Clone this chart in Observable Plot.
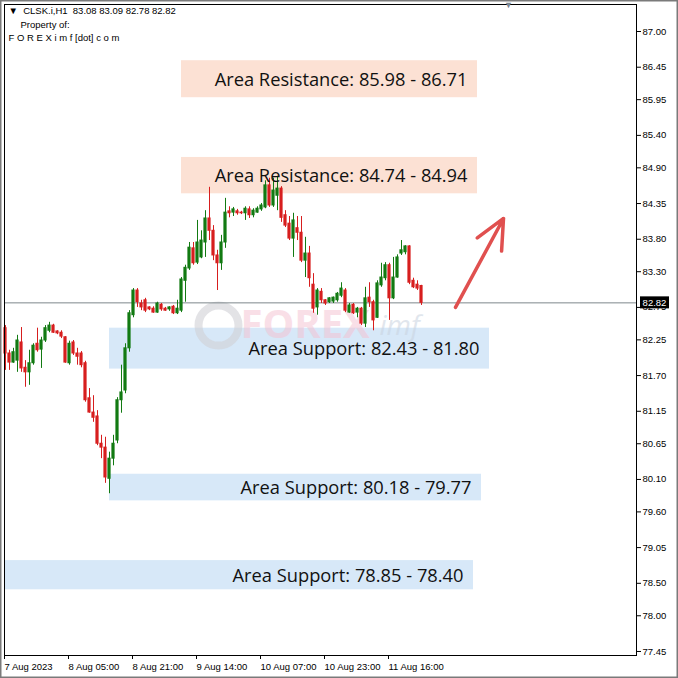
<!DOCTYPE html>
<html><head><meta charset="utf-8">
<script src="https://cdn.jsdelivr.net/npm/d3@7"></script>
<script src="https://cdn.jsdelivr.net/npm/@observablehq/plot@0.6"></script>
<style>
html,body{margin:0;padding:0;background:#fff;overflow:hidden;}
#chart{width:678px;height:678px;position:relative;overflow:hidden;}
</style></head><body><div id="chart"></div>
<script>
// ---- data (CLSK.i, H1) ----
const opens = [82.43,82.04,81.90,81.93,82.21,81.82,81.75,81.89,82.19,82.10,
82.24,82.39,82.47,82.38,82.36,82.29,81.89,82.21,82.04,82.04,
81.89,81.35,81.13,81.07,80.65,80.59,80.11,80.42,80.70,81.32,
81.47,82.12,82.63,83.01,82.81,82.86,82.75,82.73,82.67,82.79,
82.73,82.72,82.76,82.66,82.70,83.16,83.35,83.66,83.44,83.52,
83.75,84.12,83.93,83.55,83.43,83.75,84.23,84.21,84.23,84.21,
84.20,84.26,84.17,84.21,84.26,84.29,84.63,84.32,84.47,84.58,
84.17,84.04,83.81,83.97,83.90,83.47,83.58,83.10,82.75,82.99,
82.86,82.83,82.84,82.86,82.93,83.01,82.67,82.79,82.67,82.73,
82.50,82.90,82.83,82.59,83.09,83.20,83.40,82.89,83.21,83.58,
83.60,83.69,83.16,83.10,83.08];
const highs = [82.47,82.09,82.12,82.32,82.44,81.93,82.09,82.19,82.43,82.29,
82.47,82.52,82.49,82.39,82.39,82.30,82.23,82.24,82.12,82.07,
81.92,81.50,81.39,81.16,80.78,80.75,80.52,80.78,81.36,81.86,
82.19,82.70,83.04,83.04,82.86,82.89,82.76,82.76,82.83,82.81,
82.75,82.76,82.78,82.86,83.21,83.40,83.75,83.75,84.09,83.93,
84.24,84.60,84.01,83.63,83.86,84.43,84.30,84.29,84.26,84.23,
84.30,84.30,84.27,84.30,84.35,84.70,84.74,84.74,84.77,84.61,
84.24,84.15,84.20,84.15,84.15,83.83,83.69,83.27,83.04,83.04,
82.87,82.90,82.91,82.98,83.13,83.04,82.81,82.81,82.75,82.75,
83.06,83.13,82.86,83.16,83.43,83.44,83.43,83.52,83.56,83.78,
83.70,83.70,83.20,83.16,83.09];
const lows = [81.78,81.78,81.89,81.75,81.75,81.52,81.55,81.86,82.06,81.81,
82.21,82.36,82.35,82.33,82.27,81.89,81.86,82.01,81.86,81.82,
81.29,81.12,80.98,80.62,80.42,80.04,79.88,80.31,80.65,81.12,
81.42,82.06,82.59,82.75,82.70,82.67,82.70,82.66,82.66,82.69,
82.69,82.69,82.64,82.64,82.67,82.83,83.32,83.40,83.41,83.50,
83.52,83.78,83.47,83.01,83.32,83.66,84.13,84.15,84.17,84.18,
84.09,84.12,84.13,84.20,84.23,84.27,84.29,84.29,84.24,84.06,
83.98,83.78,83.52,83.78,83.44,83.21,83.06,82.66,82.63,82.81,
82.78,82.81,82.81,82.83,82.90,82.67,82.66,82.64,82.59,82.47,
82.44,82.75,82.39,82.58,83.06,83.16,82.55,82.87,83.20,83.55,
83.56,83.10,83.04,83.01,82.78];
const closes = [82.04,81.90,82.06,82.24,81.81,81.75,81.89,82.16,82.09,82.24,
82.43,82.47,82.36,82.35,82.30,81.90,82.19,82.04,81.99,81.86,
81.32,81.13,81.05,80.65,80.59,80.13,80.42,80.65,81.32,81.44,
82.12,82.66,83.01,82.83,82.75,82.70,82.72,82.67,82.81,82.72,
82.70,82.75,82.66,82.73,83.18,83.36,83.67,83.43,83.75,83.78,
84.12,83.93,83.55,83.43,83.75,84.21,84.20,84.26,84.20,84.20,
84.27,84.17,84.24,84.27,84.32,84.63,84.32,84.55,84.58,84.13,
84.01,83.81,84.09,83.90,83.47,83.58,83.20,82.73,83.01,82.86,
82.81,82.89,82.90,82.96,83.04,82.70,82.78,82.66,82.73,82.50,
82.89,82.83,82.55,83.12,83.21,83.40,82.89,83.21,83.52,83.63,
83.69,83.13,83.06,83.04,82.82];

const xTickBars = [0,16,32,48,64,80,96];
const xTickLabels = ["7 Aug 2023","8 Aug 05:00","8 Aug 21:00","9 Aug 14:00","10 Aug 07:00","10 Aug 23:00","11 Aug 16:00"];
const yTicks = [87.00,86.45,85.95,85.40,84.90,84.35,83.80,83.30,82.75,82.25,81.70,81.15,80.65,80.10,79.60,79.05,78.50,78.00,77.45];

const zoneLabels = ["Area Resistance: 85.98 - 86.71","Area Resistance: 84.74 - 84.94","Area Support: 82.43 - 81.80","Area Support: 80.18 - 79.77","Area Support: 78.85 - 78.40"];
const zoneHigh = [86.55, 85.06, 82.43, 80.18, 78.85];
const zoneLow  = [85.98, 84.50, 81.80, 79.77, 78.40];
const zoneStartBar = [44, 44, 26, 26, -0.25];
const zoneEndBar   = [118, 118, 121, 119, 117];
const zoneKind = ["resistance","resistance","support","support","support"];

const lastPrice = 82.82;
const arrowFromBar = 112.5, arrowFromPrice = 82.75;
const arrowToBar = 124.5, arrowToPrice = 84.12;

// ---- build ----
const candles = opens.map((o, i) => ({i, o, h: highs[i], l: lows[i], c: closes[i]}));
const zones = zoneLabels.map((label, k) => ({label, hi: zoneHigh[k], lo: zoneLow[k], s: zoneStartBar[k], e: zoneEndBar[k], kind: zoneKind[k]}));
const UP = "#127a12", DOWN = "#d71e1e";
const col = d => d.c >= d.o ? UP : DOWN;
const last = candles[candles.length - 1];
const nb = "\u00a0";
const axisFont = "'Liberation Sans', Arial, sans-serif";

const chart = Plot.plot({
  width: 678, height: 678,
  marginLeft: 4, marginRight: 42, marginTop: 4, marginBottom: 23,
  style: {fontFamily: axisFont, fontSize: "9.5px", color: "#000", background: "#fff"},
  x: {domain: [-0.25, 157.75], axis: null},
  y: {domain: [77.388, 87.416], axis: null},
  marks: [
    Plot.rect(zones, {x1: "s", x2: "e", y1: "lo", y2: "hi", fill: d => d.kind === "resistance" ? "#fce1d4" : "#d7e8f8"}),
    // watermark
    Plot.dot([{b: 53.25, p: 82.47}], {x: "b", y: "p", r: 20, stroke: "#d0d0d6", strokeWidth: 8, fill: "none", opacity: 0.6}),
    Plot.text([{b: 58.75, p: 82.47}], {x: "b", y: "p", text: () => "FOREX", textAnchor: "start", fontSize: 40, fontWeight: "bold", fill: "#f5c0d0", opacity: 0.5, fontFamily: "'Open Sans', sans-serif"}),
    Plot.text([{b: 93.5, p: 82.47}], {x: "b", y: "p", text: () => "imf", textAnchor: "start", fontSize: 28, fontStyle: "italic", fill: "#c9d3df", opacity: 0.55, fontFamily: "'Open Sans', sans-serif"}),
    Plot.ruleY([lastPrice], {stroke: "#7d878c", strokeWidth: 1}),
    Plot.ruleX(candles, {x: "i", y1: "l", y2: "h", stroke: col, strokeWidth: 1}),
    Plot.rect(candles, {x1: d => d.i - 0.4, x2: d => d.i + 0.4, y1: "o", y2: "c", fill: col, insetTop: -0.5, insetBottom: -0.5}),
    Plot.text(zones, {x: "e", y: d => (d.lo + d.hi) / 2, text: "label", textAnchor: "end", dx: -10, dy: 1, fontSize: 18.3, fill: "#111", fontFamily: "'Open Sans', sans-serif"}),
    Plot.arrow([{x1: arrowFromBar, y1: arrowFromPrice, x2: arrowToBar, y2: arrowToPrice}], {x1: "x1", y1: "y1", x2: "x2", y2: "y2", stroke: "#e0504f", strokeWidth: 3.5, headLength: 14, headAngle: 50}),
    Plot.axisY(yTicks, {anchor: "right", tickSize: 4, tickPadding: 2, tickFormat: d => d.toFixed(2), fontSize: 9.5, stroke: "#000"}),
    Plot.axisX(xTickBars, {anchor: "bottom", tickSize: 4, tickPadding: 4, tickFormat: d => xTickLabels[xTickBars.indexOf(d)], textAnchor: "start", dx: -1, fontSize: 9.5}),
    Plot.frame({stroke: "#000"}),
    Plot.text([`▼${nb}${nb}CLSK.i,H1${nb}${nb}${last.o.toFixed(2)} ${last.h.toFixed(2)} ${last.l.toFixed(2)} ${last.c.toFixed(2)}`], {frameAnchor: "top-left", dx: 4, dy: 6, textAnchor: "start", lineAnchor: "middle", fontSize: 9.5}),
    Plot.text(["Property of:"], {frameAnchor: "top-left", dx: 16, dy: 20, textAnchor: "start", lineAnchor: "middle", fontSize: 9.5}),
    Plot.text(["F O R E X i m f [dot] c o m"], {frameAnchor: "top-left", dx: 4, dy: 33, textAnchor: "start", lineAnchor: "middle", fontSize: 9.5}),
    Plot.text(["▼"], {frameAnchor: "top-left", dx: 504, dy: 1, textAnchor: "middle", lineAnchor: "middle", fontSize: 9, fill: "#7a8590"})
  ]
});
document.getElementById("chart").append(chart);

// current price tag on the right axis (covers the 82.75 label like the terminal does)
const svg = d3.select(chart);
const yPx = chart.scale("y").apply(lastPrice);
const tag = svg.append("g").attr("class", "price-tag");
tag.append("rect")
  .attr("x", 640).attr("y", yPx - 6).attr("width", 29).attr("height", 12)
  .style("fill", "#000").style("stroke", "none");
tag.append("text")
  .attr("x", 654.5).attr("y", yPx).attr("dy", "0.35em").attr("text-anchor", "middle")
  .style("fill", "#fff").style("font-size", "9.5px").style("font-family", axisFont)
  .text(lastPrice.toFixed(2));
// outer window border
svg.append("rect").attr("x", 0.75).attr("y", 0.75).attr("width", 676.5).attr("height", 676.5)
  .style("fill", "none").style("stroke", "#7a7a7a").style("stroke-width", 1.5);
</script></body></html>
